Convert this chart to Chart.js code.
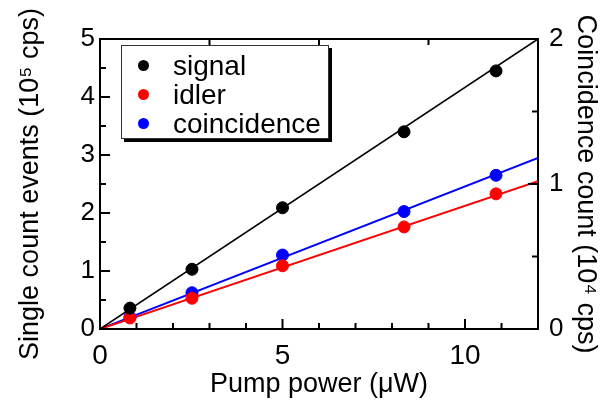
<!DOCTYPE html>
<html>
<head>
<meta charset="utf-8">
<script src="https://cdn.jsdelivr.net/npm/chart.js@4.4.1/dist/chart.umd.min.js"></script>
<style>
  html, body { margin: 0; padding: 0; background: #fff; overflow: hidden; }
  #wrap { position: relative; width: 604px; height: 404px; }
  #legend {
    position: absolute; left: 121px; top: 45px; width: 208px; height: 94px;
    border: 1px solid #333; background: #fff; box-shadow: 3px 3px 0 #000;
    font-family: "Liberation Sans", Arial, sans-serif; font-size: 28px; color: #000;
    box-sizing: border-box; padding-top: 5px;
  }
  #legend div { height: 29px; line-height: 29px; position: relative; padding-left: 51px; }
  #legend span { position: absolute; left: 16px; top: 9px; width: 11px; height: 11px; border-radius: 50%; }
</style>
</head>
<body>
<div id="wrap">
  <canvas id="chart"></canvas>
  <div id="legend"></div>
</div>
<script>
/* global Chart:false */
'use strict';

// measured points (pump power in uW)
var power = [0.82, 2.52, 5.0, 8.33, 10.85];
var signal = [0.36, 1.03, 2.09, 3.40, 4.45];        // 10^5 cps
var idler = [0.19, 0.53, 1.09, 1.76, 2.33];         // 10^5 cps
var coincidence = [0.083, 0.25, 0.51, 0.81, 1.06];  // 10^4 cps (right axis)

// linear fits through the origin
var fitPower = [0, 12];
var signalFit = [0, 5.0];
var idlerFit = [0, 2.55];
var coincidenceFit = [0, 1.18];

var xTicks = [0, 5, 10];
var leftTicks = [0, 1, 2, 3, 4, 5];
var rightTicks = [0, 1, 2];

var seriesNames = ['signal', 'idler', 'coincidence'];
var seriesColors = ['#000000', '#ff0000', '#0000ff'];

function pairs(xs, ys) {
    return xs.map(function (x, i) { return { x: x, y: ys[i] }; });
}

var fam = '"Liberation Sans", Arial, sans-serif';
var xTickFont = { family: fam, size: 28 };
var yTickFont = { family: fam, size: 26 };
var titleFont = { family: fam, size: 27 };

// inward tick marks on all four sides
var inwardTicks = {
    id: 'inwardTicks',
    afterDraw: function (chart) {
        var ctx = chart.ctx;
        var a = chart.chartArea;
        var sx = chart.scales.x, sy = chart.scales.y, sy2 = chart.scales.y2;
        ctx.save();
        ctx.strokeStyle = '#000';
        ctx.lineWidth = 2;
        ctx.beginPath();
        var v, p, len;
        for (v = 0; v <= 12; v += 1) {
            p = sx.getPixelForValue(v);
            len = v % 5 === 0 ? 10 : 6;
            ctx.moveTo(p, a.bottom); ctx.lineTo(p, a.bottom - len);
        }
        [3, 6, 9].forEach(function (t) {
            p = sx.getPixelForValue(t);
            ctx.moveTo(p, a.top); ctx.lineTo(p, a.top + 6);
        });
        for (v = 0; v <= 5; v += 0.5) {
            p = sy.getPixelForValue(v);
            len = v % 1 === 0 ? 10 : 6;
            ctx.moveTo(a.left, p); ctx.lineTo(a.left + len, p);
        }
        for (v = 0; v <= 2; v += 0.5) {
            p = sy2.getPixelForValue(v);
            len = v % 1 === 0 ? 10 : 6;
            ctx.moveTo(a.right, p); ctx.lineTo(a.right - len, p);
        }
        ctx.stroke();
        ctx.restore();
    }
};

function lineSet(label, xs, ys, color, axis, width) {
    return {
        type: 'line', label: label, data: pairs(xs, ys), yAxisID: axis,
        borderColor: color, borderWidth: width, pointRadius: 0, fill: false, order: 2
    };
}

function pointSet(label, xs, ys, color, axis) {
    return {
        type: 'scatter', label: label, data: pairs(xs, ys), yAxisID: axis,
        backgroundColor: color, borderColor: color, pointRadius: 6, pointHoverRadius: 6, order: 1
    };
}

var axisBorder = { display: true, color: '#000', width: 2 };
var noGrid = { display: true, drawOnChartArea: false, drawTicks: false };

new Chart(document.getElementById('chart'), {
    type: 'scatter',
    data: {
        datasets: [
            lineSet('signal fit', fitPower, signalFit, seriesColors[0], 'y', 1.6),
            lineSet('idler fit', fitPower, idlerFit, seriesColors[1], 'y', 2),
            lineSet('coincidence fit', fitPower, coincidenceFit, seriesColors[2], 'y2', 2),
            pointSet(seriesNames[0], power, signal, seriesColors[0], 'y'),
            pointSet(seriesNames[1], power, idler, seriesColors[1], 'y'),
            pointSet(seriesNames[2], power, coincidence, seriesColors[2], 'y2'),
        ],
    },
    options: {
        responsive: true,
        maintainAspectRatio: false,
        animation: false,
        layout: { padding: 0 },
        plugins: { legend: { display: false }, tooltip: { enabled: false } },
        scales: {
            x: {
                type: 'linear', position: 'bottom', min: 0, max: 12,
                afterBuildTicks: function (s) { s.ticks = xTicks.map(function (v) { return { value: v }; }); },
                ticks: { font: xTickFont, color: '#000', padding: 10, maxRotation: 0 },
                grid: noGrid, border: axisBorder,
                title: { display: true, text: 'Pump power (\u03bcW)', font: titleFont, color: '#000', padding: { top: 0, bottom: 3 } },
                afterFit: function (s) { s.height = 75; },
            },
            xTop: {
                type: 'linear', position: 'top', min: 0, max: 12,
                ticks: { display: false }, grid: noGrid, border: axisBorder,
                afterFit: function (s) { s.height = 39; },
            },
            y: {
                type: 'linear', position: 'left', min: 0, max: 5,
                afterBuildTicks: function (s) { s.ticks = leftTicks.map(function (v) { return { value: v }; }); },
                ticks: { font: yTickFont, color: '#000', padding: 5 },
                grid: noGrid, border: axisBorder,
                title: { display: true, text: 'Single count events (10\u2075 cps)', font: titleFont, color: '#000', padding: { top: 14, bottom: 0 } },
                afterFit: function (s) { s.width = 100; },
            },
            y2: {
                type: 'linear', position: 'right', min: 0, max: 2,
                afterBuildTicks: function (s) { s.ticks = rightTicks.map(function (v) { return { value: v }; }); },
                ticks: { font: yTickFont, color: '#000', padding: 11 },
                grid: noGrid, border: axisBorder,
                title: { display: true, text: 'Coincidence count (10\u2074 cps)', font: titleFont, color: '#000', padding: { top: 2, bottom: 0 } },
                afterFit: function (s) { s.width = 66; },
            },
        },
    },
    plugins: [inwardTicks],
});

// legend box inside the plot
var legend = document.getElementById('legend');
seriesNames.forEach(function (name, i) {
    var row = document.createElement('div');
    var dot = document.createElement('span');
    dot.style.background = seriesColors[i];
    row.appendChild(dot);
    row.appendChild(document.createTextNode(name));
    legend.appendChild(row);
});
</script>
</body>
</html>
